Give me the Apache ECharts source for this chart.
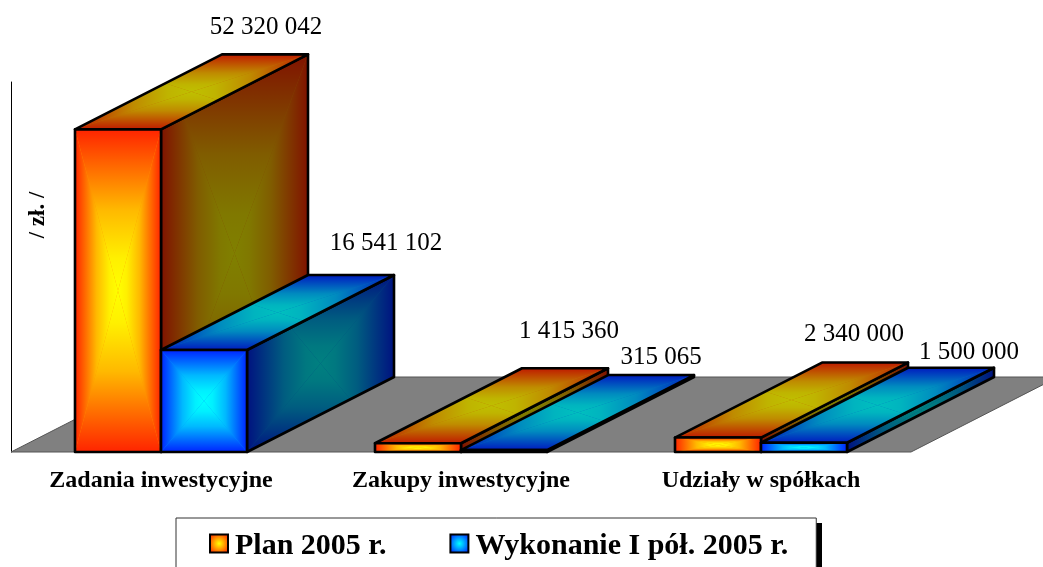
<!DOCTYPE html>
<html><head><meta charset="utf-8">
<style>html,body{margin:0;padding:0;background:#fff;overflow:hidden}#c{width:1043px;height:567px}</style>
<script src="https://cdn.jsdelivr.net/npm/echarts@6/dist/echarts.min.js"></script>
</head><body><div id="c"></div>
<script>
const categories = ['Zadania inwestycyjne', 'Zakupy inwestycyjne', 'Udziały w spółkach'];
const planValues = [52320042, 1415360, 2340000];
const wykonanieValues = [16541102, 315065, 1500000];
const seriesNames = ['Plan 2005 r.', 'Wykonanie I pół. 2005 r.'];
const yAxisName = '/ zł. /';

// label nudges relative to the back top centre of each bar, in px
const planLabelNudge = [[1, -27], [4, -37], [-11, -28]];
const wykLabelNudge = [[35, -32], [10, -18], [18, -15]];

const FONT = '"Liberation Serif","Times New Roman",serif';
const DX = 147, DY = -75, BAR_RATIO = 86 / 300;

const planCols = {edge: [255, 36, 0], center: [255, 255, 0]};
const wykCols = {edge: [0, 36, 255], center: [0, 255, 255]};

function rgb(c, f) { return 'rgb(' + c.map(v => Math.round(v * f)).join(',') + ')'; }
function mix(a, b, t) { return a.map((v, i) => v + (b[i] - v) * t); }

function stops(cols, f) {
  return [
    {offset: 0, color: rgb(cols.edge, f)},
    {offset: 0.5, color: rgb(mix(cols.edge, cols.center, 0.68), f)},
    {offset: 0.8, color: rgb(mix(cols.edge, cols.center, 0.93), f)},
    {offset: 1, color: rgb(cols.center, f)}
  ];
}

// Clip polygon `poly` to convex polygon `clip` (Sutherland-Hodgman)
function clipPoly(poly, clip) {
  let area = 0;
  for (let i = 0; i < clip.length; i++) {
    const a = clip[i], b = clip[(i + 1) % clip.length];
    area += a[0] * b[1] - b[0] * a[1];
  }
  const sgn = area >= 0 ? 1 : -1;
  let out = poly;
  for (let i = 0; i < clip.length && out.length; i++) {
    const a = clip[i], b = clip[(i + 1) % clip.length];
    const side = p => sgn * ((b[0] - a[0]) * (p[1] - a[1]) - (b[1] - a[1]) * (p[0] - a[0]));
    const input = out; out = [];
    for (let j = 0; j < input.length; j++) {
      const p = input[j], q = input[(j + 1) % input.length];
      const sp = side(p), sq = side(q);
      if (sp >= 0) out.push(p);
      if ((sp >= 0) !== (sq >= 0)) {
        const t = sp / (sp - sq);
        out.push([p[0] + (q[0] - p[0]) * t, p[1] + (q[1] - p[1]) * t]);
      }
    }
  }
  return out;
}

// Box gradient computed over the face's bounding box, clipped to the face
function boxFaces(q, cols, f) {
  const xs = q.map(p => p[0]), ys = q.map(p => p[1]);
  const x0 = Math.min(...xs), x1 = Math.max(...xs), y0 = Math.min(...ys), y1 = Math.max(...ys);
  const cx = (x0 + x1) / 2, cy = (y0 + y1) / 2;
  const tris = [
    {pts: [[x0, y0], [x1, y0], [cx, cy]], from: [cx, y0]},
    {pts: [[x1, y0], [x1, y1], [cx, cy]], from: [x1, cy]},
    {pts: [[x1, y1], [x0, y1], [cx, cy]], from: [cx, y1]},
    {pts: [[x0, y1], [x0, y0], [cx, cy]], from: [x0, cy]}
  ];
  const out = [{type: 'polygon', silent: true, shape: {points: q},
    style: {fill: rgb(mix(cols.edge, cols.center, 0.5), f)}}];
  tris.forEach(t => {
    const pts = clipPoly(t.pts, q);
    if (pts.length < 3) return;
    const grad = {type: 'linear', global: true, x: t.from[0], y: t.from[1], x2: cx, y2: cy, colorStops: stops(cols, f)};
    out.push({type: 'polygon', silent: true, shape: {points: pts}, style: {fill: grad}});
  });
  out.push({type: 'polygon', silent: true, shape: {points: q},
    style: {fill: 'none', stroke: '#000', lineWidth: 2.6, lineJoin: 'round'}});
  return out;
}

function fmt(v) { return String(v).replace(/\B(?=(\d{3})+$)/g, ' '); }

function barRender(side, cols, nudges) {
  return function (params, api) {
    const i = api.value(0), v = api.value(1);
    const base = api.coord([i, 0]), top = api.coord([i, v]);
    const w = api.size([1, 0])[0] * BAR_RATIO;
    const x0 = side === 0 ? base[0] - w : base[0], x1 = x0 + w;
    const yb = base[1], yt = top[1];
    const front = [[x0, yb], [x1, yb], [x1, yt], [x0, yt]];
    const topF = [[x0, yt], [x1, yt], [x1 + DX, yt + DY], [x0 + DX, yt + DY]];
    const sideF = [[x1, yb], [x1 + DX, yb + DY], [x1 + DX, yt + DY], [x1, yt]];
    const n = nudges[i];
    const children = [].concat(boxFaces(sideF, cols, 0.5), boxFaces(topF, cols, 0.75), boxFaces(front, cols, 1));
    children.push({type: 'text', silent: true, style: {
      x: (x0 + x1) / 2 + DX + n[0], y: yt + DY + n[1], text: fmt(v),
      fill: '#000', font: '25px ' + FONT, align: 'center', verticalAlign: 'middle'}});
    return {type: 'group', children};
  };
}

function floorRender(params, api) {
  const band = api.size([1, 0])[0];
  const a = api.coord([0, 0]), b = api.coord([categories.length - 1, 0]);
  const l = a[0] - band / 2, r = b[0] + band / 2, y = a[1];
  return {type: 'polygon', silent: true,
    shape: {points: [[l, y], [r, y], [r + DX, y + DY], [l + DX, y + DY]]},
    style: {fill: '#808080', stroke: '#555', lineWidth: 1}};
}

function legendGrad(c) {
  return {type: 'radial', x: .5, y: .5, r: .62, colorStops: [
    {offset: 0, color: rgb(c.center, 1)}, {offset: 1, color: rgb(c.edge, 1)}]};
}

const chart = echarts.init(document.getElementById('c'));
chart.setOption({
  animation: false,
  backgroundColor: '#fff',
  grid: {left: 11, right: 132, top: 82, bottom: 115, outerBoundsMode: 'none'},
  xAxis: {type: 'category', data: categories, axisLine: {show: false}, axisTick: {show: false},
    axisLabel: {color: '#000', fontFamily: FONT, fontWeight: 'bold', fontSize: 24, margin: 17, interval: 0}},
  yAxis: {type: 'value', min: 0, max: 60000000, interval: 60000000, splitLine: {show: false},
    axisLabel: {show: false}, axisTick: {show: false},
    axisLine: {show: true, lineStyle: {color: '#000', width: 1}},
    name: yAxisName, nameLocation: 'middle', nameGap: -39, nameRotate: 90,
    nameTextStyle: {color: '#000', fontFamily: FONT, fontWeight: 'bold', fontSize: 23, padding: [0, 0, 0, 104]}},
  graphic: [{type: 'rect', silent: true, shape: {x: 180, y: 523, width: 642, height: 50}, style: {fill: '#000'}, z: 0}],
  legend: {
    left: 176, top: 518, orient: 'horizontal',
    data: seriesNames,
    padding: [13, 28, 15, 33], itemGap: 63, itemWidth: 18, itemHeight: 18,
    backgroundColor: '#fff', borderColor: '#333', borderWidth: 1,
    itemStyle: {borderColor: '#000', borderWidth: 2},
    formatter: name => '{t|' + name + '}',
    textStyle: {color: '#000', fontFamily: FONT, fontWeight: 'bold', fontSize: 30,
      rich: {t: {color: '#000', fontFamily: FONT, fontWeight: 'bold', fontSize: 30, padding: [5, 0, 0, 2]}}},
    icon: 'rect', selectedMode: false
  },
  series: [
    {type: 'custom', name: 'floor', silent: true, renderItem: floorRender, data: [[0, 0]], z: 1},
    {type: 'custom', name: seriesNames[0], silent: true, z: 2,
      itemStyle: {color: legendGrad(planCols)},
      renderItem: barRender(0, planCols, planLabelNudge),
      data: planValues.map((v, i) => [i, v])},
    {type: 'custom', name: seriesNames[1], silent: true, z: 3,
      itemStyle: {color: legendGrad(wykCols)},
      renderItem: barRender(1, wykCols, wykLabelNudge),
      data: wykonanieValues.map((v, i) => [i, v])}
  ]
});
</script></body></html>
